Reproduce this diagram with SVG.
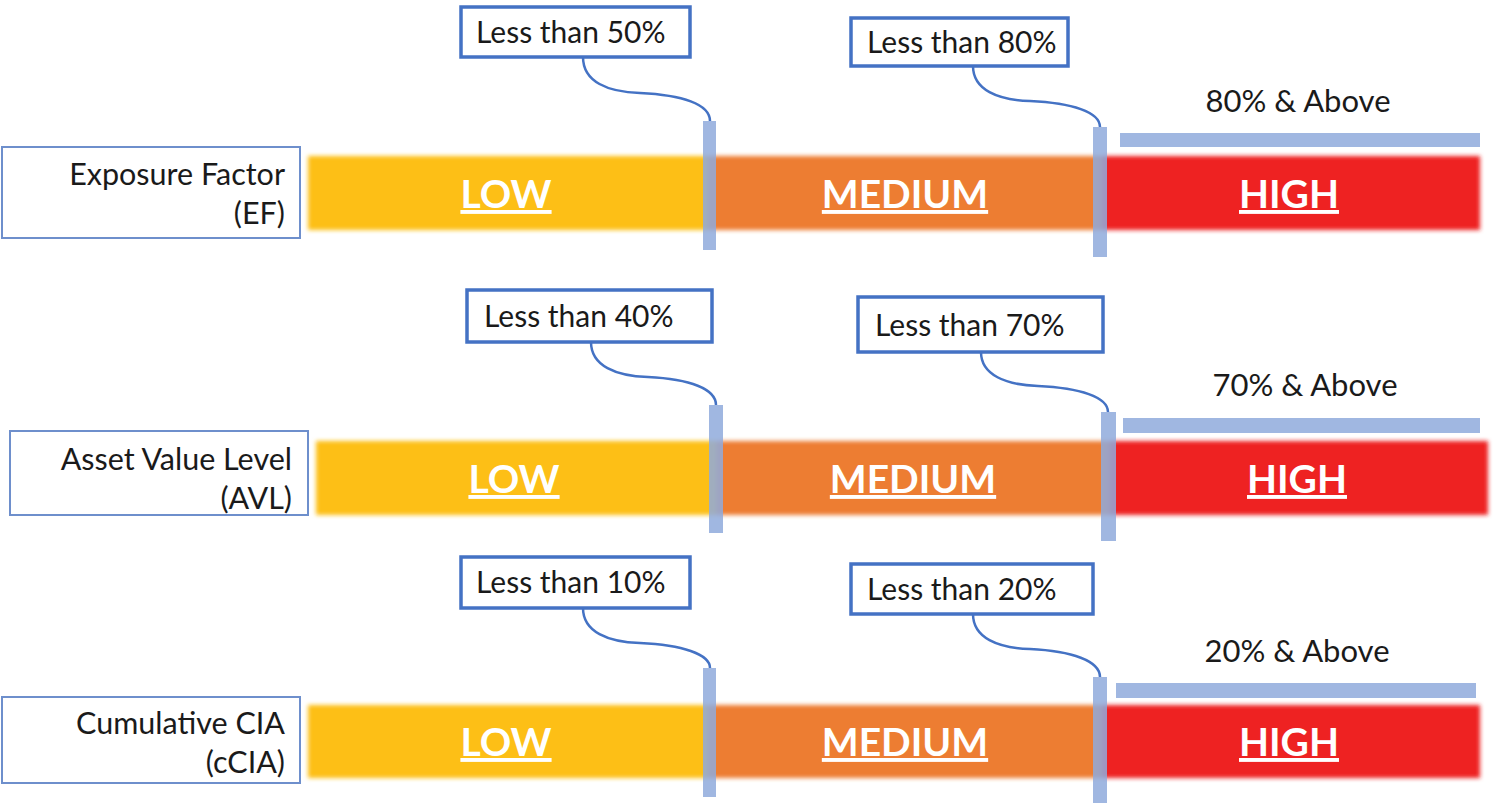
<svg xmlns="http://www.w3.org/2000/svg" width="1499" height="809" viewBox="0 0 1499 809">
<defs>
<filter id="blur" x="-5%" y="-20%" width="110%" height="140%"><feGaussianBlur stdDeviation="2.2"/></filter>
<style>
.lbl{fill:#fff;stroke:#6E8FCC;stroke-width:2}
.lt{font-family:Lato,"Open Sans",sans-serif;font-size:30.5px;fill:#1a1a1a;text-anchor:end}
.co{fill:#fff;stroke:#4472C4;stroke-width:3.5}
.ct{font-family:Lato,"Open Sans",sans-serif;font-size:30px;fill:#1a1a1a}
.ab{font-family:Lato,"Open Sans",sans-serif;font-size:31px;fill:#1a1a1a;text-anchor:middle}
.lv{font-family:Lato,"Open Sans",sans-serif;font-size:39px;font-weight:bold;fill:#fff;text-anchor:middle;text-decoration:underline}
.mk{fill:#8FAADC;opacity:0.85}
.cv{fill:none;stroke:#4472C4;stroke-width:2.5}
.y{fill:#FDBF12}.o{fill:#ED7D31}.r{fill:#EE2024}
</style>
</defs>
<rect width="1499" height="809" fill="#fff"/>

<g id="row1">
<g id="ef-label"><rect class="lbl" x="2" y="147" width="298" height="91"/>
<text class="lt" x="285" y="185">Exposure Factor</text><text class="lt" x="285" y="224">(EF)</text></g>
<g id="ef-bar" filter="url(#blur)">
<rect class="y" x="308" y="156" width="400" height="74"/>
<rect class="o" x="708" y="156" width="393" height="74"/>
<rect class="r" x="1101" y="156" width="379" height="74"/></g>
<g id="ef-low"><text class="lv" x="506" y="208">LOW</text></g>
<g id="ef-med"><text class="lv" x="905" y="208">MEDIUM</text></g>
<g id="ef-high"><text class="lv" x="1289" y="208">HIGH</text></g>
<g id="ef-c1"><rect class="co" x="461" y="7" width="229" height="50"/><text class="ct" x="476" y="43">Less than 50%</text></g>
<g id="ef-c2"><rect class="co" x="851" y="18" width="217" height="48"/><text class="ct" x="867" y="53">Less than 80%</text></g>
<g id="ef-above"><text class="ab" x="1298" y="112">80% &amp; Above</text><rect class="mk" x="1120" y="133" width="360" height="14"/></g>
<g id="ef-m1"><rect class="mk" x="703" y="121" width="13" height="129"/></g>
<g id="ef-m2"><rect class="mk" x="1093" y="127" width="14" height="130"/></g>
</g>

<g id="row2">
<g id="avl-label"><rect class="lbl" x="10" y="431" width="298" height="84"/>
<text class="lt" x="292" y="470">Asset Value Level</text><text class="lt" x="292" y="509">(AVL)</text></g>
<g id="avl-bar" filter="url(#blur)">
<rect class="y" x="316" y="441" width="400" height="74"/>
<rect class="o" x="716" y="441" width="393" height="74"/>
<rect class="r" x="1109" y="441" width="379" height="74"/></g>
<g id="avl-low"><text class="lv" x="514" y="493">LOW</text></g>
<g id="avl-med"><text class="lv" x="913" y="493">MEDIUM</text></g>
<g id="avl-high"><text class="lv" x="1297" y="493">HIGH</text></g>
<g id="avl-c1"><rect class="co" x="467" y="290" width="245" height="52"/><text class="ct" x="484" y="327">Less than 40%</text></g>
<g id="avl-c2"><rect class="co" x="858" y="297" width="245" height="55"/><text class="ct" x="875" y="336">Less than 70%</text></g>
<g id="avl-above"><text class="ab" x="1305" y="396">70% &amp; Above</text><rect class="mk" x="1123" y="418" width="357" height="15"/></g>
<g id="avl-m1"><rect class="mk" x="709" y="405" width="14" height="128"/></g>
<g id="avl-m2"><rect class="mk" x="1101" y="412" width="15" height="129"/></g>
</g>

<g id="row3">
<g id="ccia-label"><rect class="lbl" x="2" y="697" width="298" height="86"/>
<text class="lt" x="285" y="734">Cumulative CIA</text><text class="lt" x="285" y="773">(cCIA)</text></g>
<g id="ccia-bar" filter="url(#blur)">
<rect class="y" x="308" y="705" width="400" height="73"/>
<rect class="o" x="708" y="705" width="393" height="73"/>
<rect class="r" x="1101" y="705" width="379" height="73"/></g>
<g id="ccia-low"><text class="lv" x="506" y="756">LOW</text></g>
<g id="ccia-med"><text class="lv" x="905" y="756">MEDIUM</text></g>
<g id="ccia-high"><text class="lv" x="1289" y="756">HIGH</text></g>
<g id="ccia-c1"><rect class="co" x="461" y="557" width="229" height="51"/><text class="ct" x="476" y="593">Less than 10%</text></g>
<g id="ccia-c2"><rect class="co" x="851" y="564" width="242" height="50"/><text class="ct" x="867" y="600">Less than 20%</text></g>
<g id="ccia-above"><text class="ab" x="1297" y="662">20% &amp; Above</text><rect class="mk" x="1116" y="683" width="360" height="15"/></g>
<g id="ccia-m1"><rect class="mk" x="703" y="668" width="13" height="129"/></g>
<g id="ccia-m2"><rect class="mk" x="1093" y="677" width="14" height="126"/></g>
</g>

<g id="connectors">
<path class="cv" d="M583,57 C583,82 608,92 640,93 C682,95 710,104 710,121"/>
<path class="cv" d="M973,66 C973,90 998,100 1030,101 C1072,103 1100,112 1100,127"/>
<path class="cv" d="M591,342 C591,366 616,376 648,377 C690,379 716,389 716,405"/>
<path class="cv" d="M981,352 C981,375 1006,385 1038,386 C1080,388 1108,397 1108,412"/>
<path class="cv" d="M583,608 C583,632 608,642 640,643 C682,645 710,654 710,668"/>
<path class="cv" d="M973,614 C973,638 998,648 1030,649 C1072,651 1100,661 1100,677"/>
</g>
</svg>
